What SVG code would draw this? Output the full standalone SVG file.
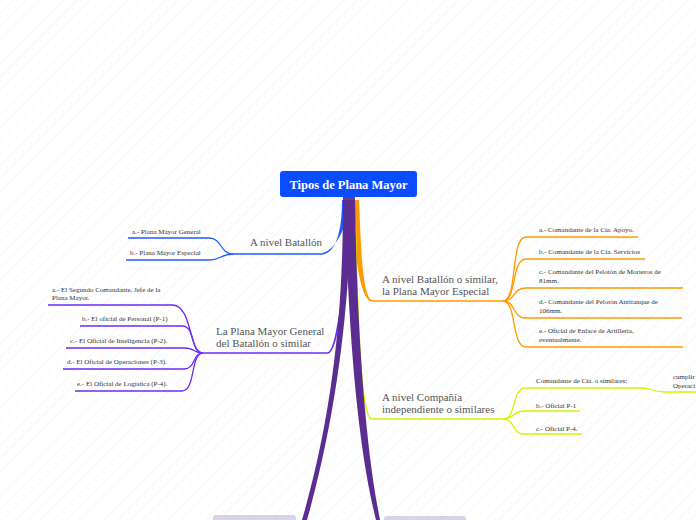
<svg xmlns="http://www.w3.org/2000/svg" width="696" height="520" viewBox="0 0 696 520">
<defs>
<pattern id="bg" width="9" height="9" patternUnits="userSpaceOnUse" patternTransform="rotate(45)">
<rect width="9" height="9" fill="#ffffff"/>
<line x1="0" y1="0" x2="0" y2="9" stroke="#f3f3f3" stroke-width="1.2"/>
</pattern>
<style>
.leaf{font-family:"Liberation Serif",serif;font-size:7px;fill:#333333}
.main{font-family:"Liberation Serif",serif;font-size:11px;fill:#555555}
.ln{fill:none;stroke-width:1.3}
.bl{stroke:#1f5cff}.pu{stroke:#6a2cf5}.or{stroke:#ff9a00}.ye{stroke:#d2f500}
.trunk{fill:#5b2d90}
</style>
</defs>
<rect width="696" height="520" fill="url(#bg)"/>
<g id="connectors">
<path d="M342,200 C342,234 335,253 322,254.8 L322,253.2 C334,251 347,230 350,200 Z" fill="#1f5cff"/>
<path d="M351,200 C355,248 358,298 372,301.8 L372,300.2 C362,296 361,245 359,200 Z" fill="#ff9a00"/>
<path d="M346,215 C344,285 340,351 328,353.8 L328,352.2 C337,349 343,285 350,215 Z" fill="#6a2cf5"/>
<path d="M352,225 C356,330 360,417 372,419.8 L372,418.2 C362,415 359,330 356,225 Z" fill="#d2f500"/>
<path class="ln bl" d="M233,254 L322,254"/>
<path class="ln pu" d="M203,353 L328,353"/>
<path class="ln or" d="M372,301 L503,301"/>
<path class="ln ye" d="M372,419 L503,419"/>
<path class="ln bl" d="M233,254 C220,254 222,238 209,238 L128,238"/>
<path class="ln bl" d="M233,254 C220,254 222,260 209,260 L126,260"/>
<path class="ln pu" d="M203,353 C188,353 193,305 172,305 L48,305"/>
<path class="ln pu" d="M203,353 C190,353 196,326 182,326 L80,326"/>
<path class="ln pu" d="M203,353 C192,353 196,348 184,348 L66,348"/>
<path class="ln pu" d="M203,353 C192,353 196,369 184,369 L63,369"/>
<path class="ln pu" d="M203,353 C190,353 196,391 182,391 L75,391"/>
<path class="ln or" d="M503,301 C518,301 510,237 526,237 L638,237"/>
<path class="ln or" d="M503,301 C517,301 511,259 526,259 L645,259"/>
<path class="ln or" d="M503,301 C516,301 512,288 526,288 L683,288"/>
<path class="ln or" d="M503,301 C516,301 512,318 526,318 L682,318"/>
<path class="ln or" d="M503,301 C517,301 511,347 526,347 L683,347"/>
<path class="ln ye" d="M503,419 C517,419 511,388 526,388 L642,388 C652,388 652,392 666,392 L696,392"/>
<path class="ln ye" d="M503,419 C515,419 512,411 524,411 L580,411"/>
<path class="ln ye" d="M503,419 C515,419 512,434 524,434 L582,434"/>
<path class="trunk" d="M343,200 C343,290 337,400 302,520 L307,520 C338,410 350,300 351,200 Z"/>
<path class="trunk" d="M345,200 C348,320 356,440 376,520 L380,520 C364,440 357,320 355,200 Z"/>
</g>
<g id="root">
<rect x="280" y="171" width="137" height="26" rx="3" fill="#0a4cff"/>
<rect x="343" y="197" width="12" height="3" fill="#6a3a90"/>
<text x="348.5" y="188.5" text-anchor="middle" font-family="Liberation Serif, serif" font-weight="bold" font-size="12.5" fill="#ffffff">Tipos de Plana Mayor</text>
</g>
<g id="n-batallon">
<text class="main" x="250" y="246">A nivel Batallón</text>
</g>
<g id="n-bat-a"><text class="leaf" x="132" y="234">a.- Plana Mayor General</text></g>
<g id="n-bat-b"><text class="leaf" x="130" y="255">b.- Plana Mayor Especial</text></g>
<g id="n-general">
<text class="main" x="216" y="335">La Plana Mayor General</text>
<text class="main" x="216" y="347">del Batallón o similar</text>
</g>
<g id="n-gen-a"><text class="leaf" x="52" y="292">a.- El Segundo Comandante, Jefe de la</text><text class="leaf" x="52" y="300">Plana Mayor.</text></g>
<g id="n-gen-b"><text class="leaf" x="82" y="321">b.- El oficial de Personal (P-1)</text></g>
<g id="n-gen-c"><text class="leaf" x="70" y="343">c.- El Oficial de Inteligencia (P-2).</text></g>
<g id="n-gen-d"><text class="leaf" x="67" y="364">d.- El Oficial de Operaciones (P-3).</text></g>
<g id="n-gen-e"><text class="leaf" x="77" y="386">e.- El Oficial de Logística (P-4).</text></g>
<g id="n-especial">
<text class="main" x="382" y="283">A nivel Batallón o similar,</text>
<text class="main" x="382" y="295">la Plana Mayor Especial</text>
</g>
<g id="n-esp-a"><text class="leaf" x="539" y="232">a.- Comandante de la Cia. Apoyo.</text></g>
<g id="n-esp-b"><text class="leaf" x="539" y="254">b.- Comandante de la Cia. Servicios</text></g>
<g id="n-esp-c"><text class="leaf" x="539" y="274">c.- Comandante del Pelotón de Morteros de</text><text class="leaf" x="539" y="283">81mm.</text></g>
<g id="n-esp-d"><text class="leaf" x="539" y="304">d.- Comandante del Pelotón Antitanque de</text><text class="leaf" x="539" y="313">106mm.</text></g>
<g id="n-esp-e"><text class="leaf" x="539" y="333">e.- Oficial de Enlace de Artillería,</text><text class="leaf" x="539" y="342">eventualmente.</text></g>
<g id="n-compania">
<text class="main" x="382" y="401">A nivel Compañía</text>
<text class="main" x="382" y="413">independiente o similares</text>
</g>
<g id="n-com-a"><text class="leaf" x="536" y="383">Comandante de Cia. o similares;</text></g>
<g id="n-com-a1"><text class="leaf" x="673" y="379">cumplir</text><text class="leaf" x="673" y="388">Operaci</text></g>
<g id="n-com-b"><text class="leaf" x="536" y="408">b.- Oficial P-1</text></g>
<g id="n-com-c"><text class="leaf" x="536" y="431">c.- Oficial P-4.</text></g>
<g id="n-bottom-left"><rect x="213" y="515" width="83" height="20" rx="3" fill="#dbd2e7"/></g>
<g id="n-bottom-right"><rect x="384" y="516" width="82" height="20" rx="3" fill="#dbd2e7"/></g>
</svg>
